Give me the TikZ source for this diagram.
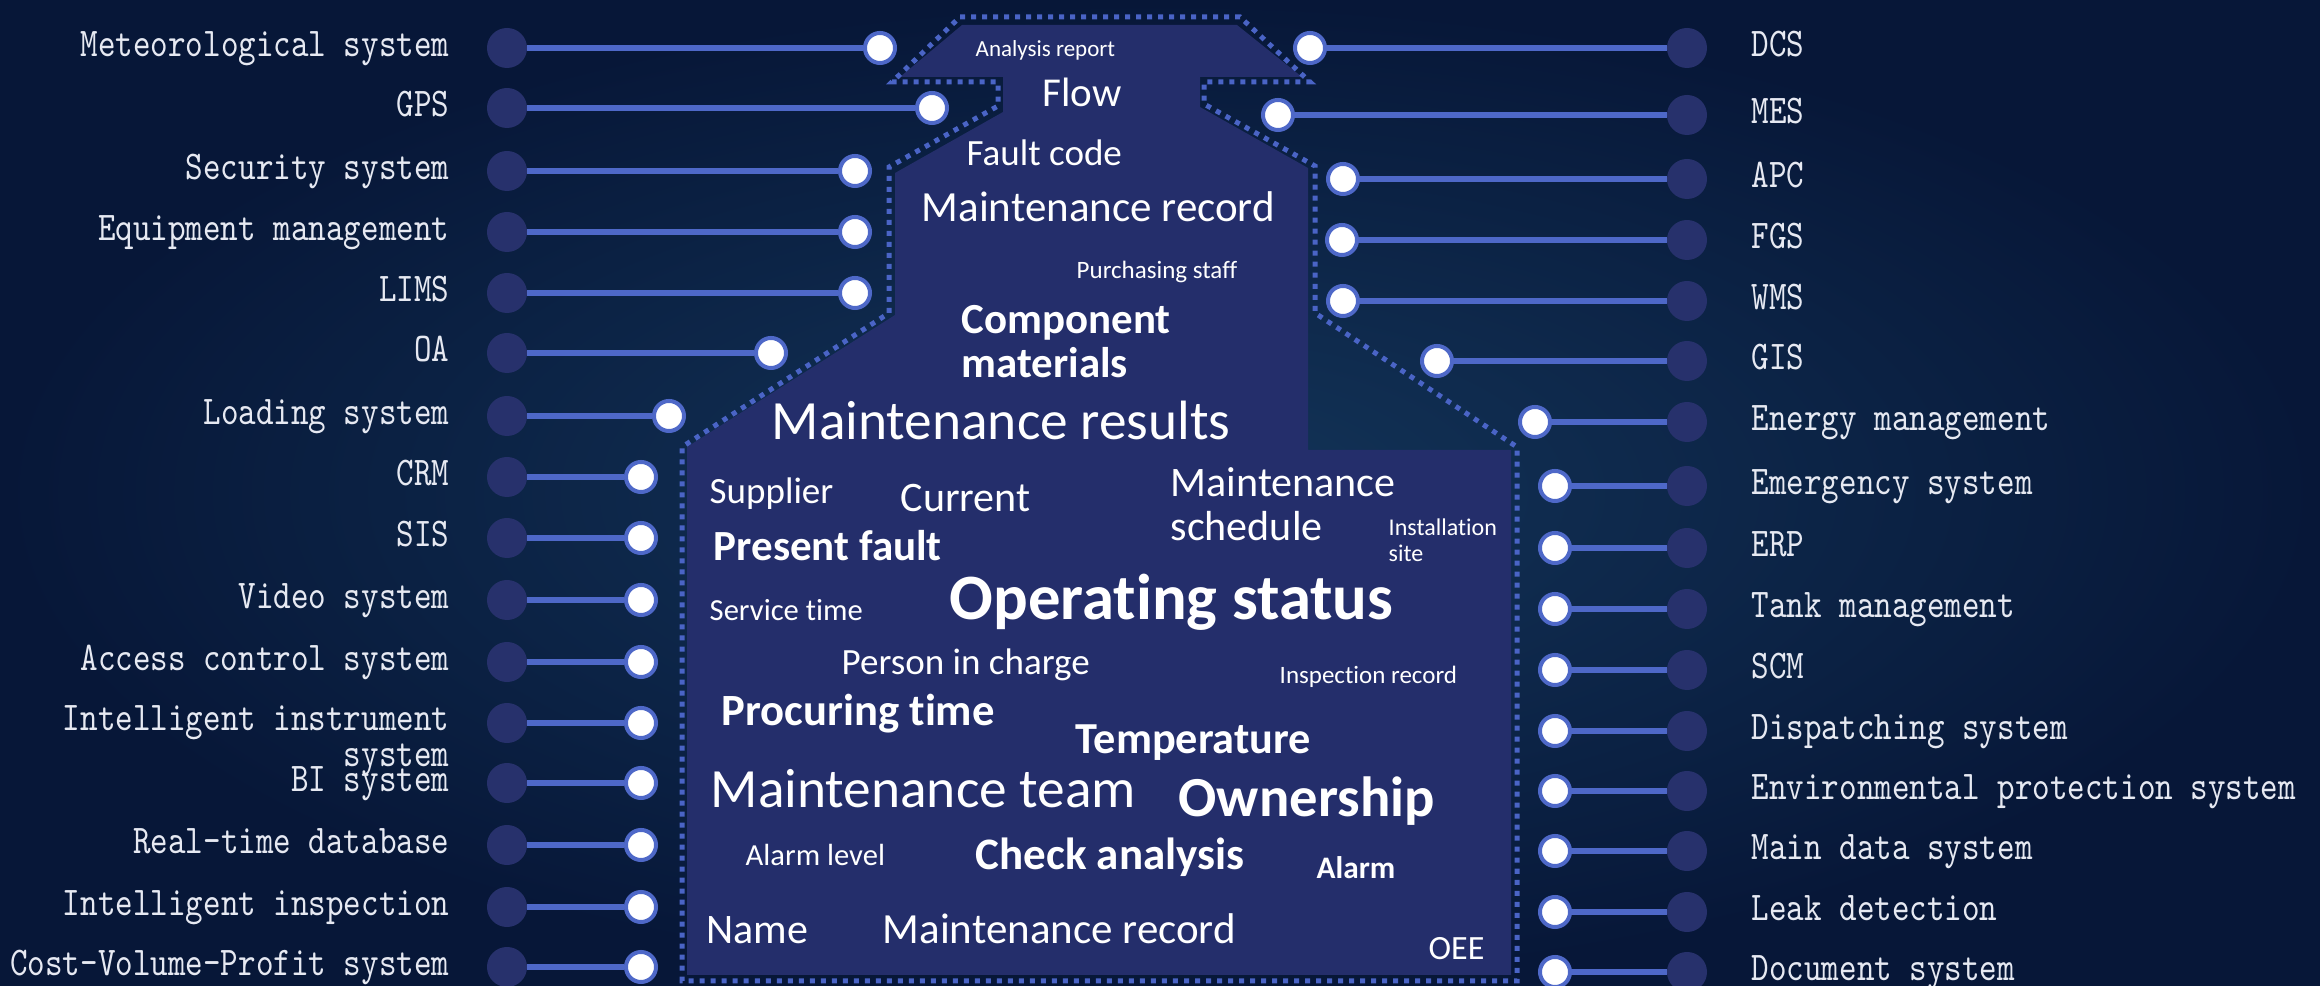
\documentclass[tikz,border=0pt]{standalone}
\usepackage{fontspec}
\newfontfamily\wordfont{Carlito}[Ligatures=NoCommon]
\newfontfamily\sysfont{lmmono10-regular}[Extension=.otf, FakeStretch=0.82]
\definecolor{bgin}{HTML}{133559}
\definecolor{bgout}{HTML}{071738}
\definecolor{shapec}{HTML}{242E6B}
\definecolor{dotc}{HTML}{27316C}
\definecolor{linkc}{HTML}{4E68C8}
\definecolor{dashc}{HTML}{4A64C6}
\definecolor{labelc}{HTML}{E6E9F2}
\newcommand\wsz[2]{\fontsize{#1pt}{#2pt}\selectfont}
\begin{document}
\begin{tikzpicture}[x=0.01cm, y=-0.01cm,
  sysdot/.style={circle, fill=dotc, minimum size=0.40cm, inner sep=0pt, outer sep=0pt},
  port/.style={circle, fill=white, draw=linkc, line width=0.04cm, minimum size=0.30cm, inner sep=0pt},
  link/.style={draw=linkc, line width=0.06cm},
  syslabel/.style={text=labelc, inner sep=0pt, font=\sysfont\wsz{11.6}{10.5}},
  lsys/.style={syslabel, align=right, anchor=base east},
  rsys/.style={syslabel, align=left, anchor=base west},
  word/.style={text=white, inner sep=0pt, align=left, anchor=base west},
  frame/.style={draw=dashc, line width=0.05cm, dash pattern=on 0.05cm off 0.06cm}
]
% canvas and background
\useasboundingbox (0,0) rectangle (2320,986);
\clip (0,0) rectangle (2320,986);
\shade[inner color=bgin, outer color=bgout] (0,0) rectangle (2320,986);

% central body
\fill[shapec] (962,25) -- (1237,25) -- (1302,77) -- (900,77) -- cycle;
\fill[shapec] (1003,76) -- (1200,76) -- (1200,107) -- (1308,168) -- (1308,450)
  -- (1511,450) -- (1511,975) -- (687,975) -- (687,447) -- (895,315)
  -- (895,173) -- (1003,112) -- cycle;
\draw[frame] (960,17) -- (1240,17) -- (1310,82) -- (1204,82) -- (1204,104)
  -- (1315,166) -- (1315,313) -- (1517,447) -- (1517,981) -- (682,981)
  -- (682,447) -- (889,313) -- (889,167) -- (998,106) -- (998,82)
  -- (892,82) -- cycle;

% left systems (label base sits on the last line)
\foreach \y/\t/\px/\b [count=\i] in {
  48/Meteorological system/880/9, 108/GPS/932/9, 171/Security system/855/9,
  232/Equipment management/855/9, 293/LIMS/855/9, 353/OA/771/9,
  416/Loading system/669/9, 477/CRM/641/9, 538/SIS/641/9, 600/Video system/641/9,
  662/Access control system/641/9, 723/{Intelligent instrument\\system}/641/44,
  783/BI system/641/9, 845/Real-time database/641/9,
  907/Intelligent inspection/641/9, 967/Cost-Volume-Profit system/641/9}{
  \node[sysdot] (ld\i) at (507,\y) {};
  \node[port] (lp\i) at (\px,\y) {};
  \node[lsys] (lt\i) at (450,\y+\b) {\t};
  \draw[link] (ld\i) -- (lp\i);
}

% right systems
\foreach \y/\t/\px [count=\i] in {
  48/DCS/1310, 115/MES/1278, 179/APC/1343, 240/FGS/1342, 301/WMS/1343,
  361/GIS/1437, 422/Energy management/1535, 486/Emergency system/1555,
  548/ERP/1555, 609/Tank management/1555, 670/SCM/1555,
  731/Dispatching system/1555, 791/Environmental protection system/1555,
  851/Main data system/1555, 912/Leak detection/1555,
  972/Document system/1555}{
  \node[sysdot] (rd\i) at (1687,\y) {};
  \node[port] (rp\i) at (\px,\y) {};
  \node[rsys] (rt\i) at (1751,\y+9) {\t};
  \draw[link] (rp\i) -- (rd\i);
}

% word cloud
\node[word, font=\wordfont\wsz{6.54}{7.8}] (analysis) at (975,57) {Analysis report};
\node[word, font=\wordfont\wsz{11.67}{14}] (flow) at (1042,107) {Flow};
\node[word, font=\wordfont\wsz{10.53}{12.6}] (fault) at (966,166) {Fault code};
\node[word, font=\wordfont\wsz{12.23}{14.6}] (recordA) at (921,222) {Maintenance record};
\node[word, font=\wordfont\wsz{7.11}{8.5}] (purchasing) at (1076,279) {Purchasing staff};
\node[word, font=\wordfont\bfseries\wsz{12.2}{12.52}] (component) at (961,378) {Component\\materials};
\node[word, font=\wordfont\wsz{15.75}{18.8}] (results) at (771,440) {Maintenance results};
\node[word, font=\wordfont\wsz{10.53}{12.6}] (supplier) at (709,504) {Supplier};
\node[word, font=\wordfont\wsz{11.95}{14.3}] (current) at (900,512) {Current};
\node[word, font=\wordfont\wsz{11.95}{12.52}] (schedule) at (1170,541) {Maintenance\\schedule};
\node[word, font=\wordfont\wsz{6.83}{7.40}] (site) at (1388,562) {Installation\\site};
\node[word, font=\wordfont\bfseries\wsz{12.23}{14.6}] (present) at (713,561) {Present fault};
\node[word, font=\wordfont\wsz{8.7}{10.2}] (service) at (709,621) {Service time};
\node[word, font=\wordfont\bfseries\wsz{18.4}{21.5}] (operating) at (949,620) {Operating status};
\node[word, font=\wordfont\wsz{10.53}{12.6}] (person) at (841,675) {Person in charge};
\node[word, font=\wordfont\wsz{7.11}{8.5}] (inspection) at (1279,684) {Inspection record};
\node[word, font=\wordfont\bfseries\wsz{12.7}{15}] (procuring) at (721,726) {Procuring time};
\node[word, font=\wordfont\bfseries\wsz{12.6}{15}] (temperature) at (1075,754) {Temperature};
\node[word, font=\wordfont\wsz{15.75}{18.8}] (team) at (710,808) {Maintenance team};
\node[word, font=\wordfont\bfseries\wsz{16.1}{19}] (ownership) at (1178,817) {Ownership};
\node[word, font=\wordfont\wsz{8.7}{10.2}] (alarmlevel) at (745,866) {Alarm level};
\node[word, font=\wordfont\bfseries\wsz{12.8}{15}] (check) at (975,870) {Check analysis};
\node[word, font=\wordfont\bfseries\wsz{8.9}{10.6}] (alarm) at (1316,879) {Alarm};
\node[word, font=\wordfont\wsz{11.95}{14.3}] (name) at (706,944) {Name};
\node[word, font=\wordfont\wsz{12.23}{14.6}] (recordB) at (882,944) {Maintenance record};
\node[word, font=\wordfont\wsz{9.67}{11.6}] (oee) at (1428,960) {OEE};
\end{tikzpicture}
\end{document}
